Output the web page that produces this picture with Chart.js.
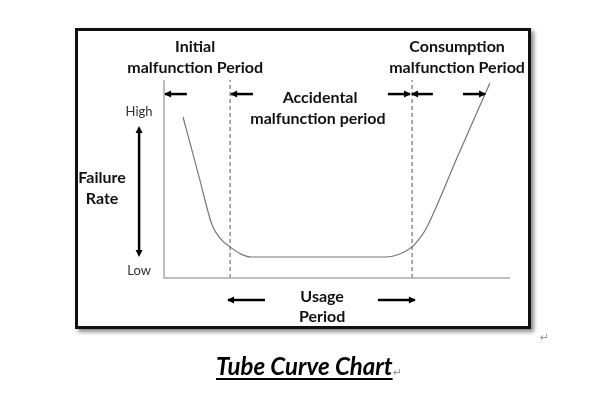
<!DOCTYPE html>
<html>
<head>
<meta charset="utf-8">
<script src="https://cdn.jsdelivr.net/npm/chart.js@4"></script>
<style>
  html, body { margin: 0; padding: 0; background: #fff; }
  body { width: 603px; height: 399px; position: relative; overflow: hidden; font-family: Lato, "Open Sans", sans-serif; }
  .frame { position: absolute; left: 75px; top: 28px; width: 450px; height: 295px; border: 3px solid #111; box-shadow: 3px 3px 4px rgba(0,0,0,0.45); background: #fff; }
  #wrap { position: absolute; left: 0; top: 0; width: 603px; height: 399px; }
  .title { position: absolute; left: 216px; top: 351px; font: italic bold 24px Lato, sans-serif; color: #000; text-decoration: underline; text-decoration-thickness: 2px; text-underline-offset: 3px; }
  .pm { position: absolute; color: #999; font: 11px "DejaVu Sans", sans-serif; }
</style>
</head>
<body>
<div class="frame"></div>
<div id="wrap"><canvas id="myChart"></canvas></div>
<div class="title">Tube Curve Chart</div>
<span class="pm" style="left:393px;top:366px;">↵</span>
<span class="pm" style="left:540px;top:331px;">↵</span>
<script>
// bathtub curve (x = usage time, y = failure rate, both 0..100)
const curveX = [5.5, 10, 13.9, 16.5, 19.1, 22, 25, 40, 55, 64, 68, 71.7, 74.3, 76, 85, 94.2];
const curveY = [81.3, 52, 26.8, 19.5, 15.7, 12.3, 10.6, 10.6, 10.6, 10.6, 12, 15.7, 21, 25.8, 62, 98.5];

// period boundaries
const boundaries = [19.1, 71.7];

// labels, in chart units
const labelText = ["Initial", "malfunction Period", "Consumption", "malfunction Period",
  "Accidental", "malfunction period", "Usage", "Period", "Failure", "Rate"];
const labelX = [9, 9, 84.7, 84.7, 45.1, 44.5, 45.7, 45.7, -17.9, -17.9];
const labelY = [116.7, 106.1, 116.7, 106.1, 90.9, 80.3, -9.6, -19.7, 50.5, 39.9];
const tickText = ["High", "Low"];
const tickY = [83.8, 3.5];
const tickX = -7.2;

// arrows: [x1, x2, y, direction]
const arrowFrom = [0.3, 19.4, 64.7, 71.7, 86.4, 18.5, 61.8];
const arrowTo = [6.6, 25.7, 71.1, 77.7, 92.8, 29.2, 72.5];
const arrowY = [92.9, 92.9, 92.9, 92.9, 92.9, -11.1, -11.1];
const arrowDir = [-1, -1, 1, -1, 1, -1, 1];
const vArrow = { x: -7.2, from: 76.3, to: 11.1 };

function arrowHead(ctx, x, y, ang) {
  ctx.save();
  ctx.translate(x, y);
  ctx.rotate(ang);
  ctx.beginPath();
  ctx.moveTo(0, 0);
  ctx.lineTo(-7, -3.5);
  ctx.lineTo(-7, 3.5);
  ctx.closePath();
  ctx.fill();
  ctx.restore();
}

const annotations = {
  id: "annotations",
  afterDraw(chart) {
    const ctx = chart.ctx;
    const xs = chart.scales.x, ys = chart.scales.y;
    ctx.save();
    ctx.fillStyle = "#111";
    ctx.textAlign = "center";
    ctx.textBaseline = "middle";
    ctx.font = "bold 16px Lato, sans-serif";
    labelText.forEach((t, i) => {
      ctx.fillText(t, xs.getPixelForValue(labelX[i]), ys.getPixelForValue(labelY[i]));
    });
    ctx.fillStyle = "#333";
    ctx.font = "13px Lato, sans-serif";
    tickText.forEach((t, i) => {
      ctx.fillText(t, xs.getPixelForValue(tickX), ys.getPixelForValue(tickY[i]));
    });

    ctx.strokeStyle = "#000";
    ctx.fillStyle = "#000";
    ctx.lineWidth = 2.5;
    arrowFrom.forEach((a, i) => {
      const x1 = xs.getPixelForValue(a), x2 = xs.getPixelForValue(arrowTo[i]);
      const y = ys.getPixelForValue(arrowY[i]);
      ctx.beginPath();
      ctx.moveTo(x1, y);
      ctx.lineTo(x2, y);
      ctx.stroke();
      if (arrowDir[i] < 0) arrowHead(ctx, x1 - 1, y, Math.PI);
      else arrowHead(ctx, x2 + 1, y, 0);
    });
    const vx = xs.getPixelForValue(vArrow.x);
    const vy1 = ys.getPixelForValue(vArrow.from), vy2 = ys.getPixelForValue(vArrow.to);
    ctx.beginPath();
    ctx.moveTo(vx, vy1 + 4);
    ctx.lineTo(vx, vy2 - 4);
    ctx.stroke();
    arrowHead(ctx, vx, vy1 - 1, -Math.PI / 2);
    arrowHead(ctx, vx, vy2 + 1, Math.PI / 2);
    ctx.restore();
  }
};

const ctx = document.getElementById("myChart").getContext("2d");
const datasets = [
  {
    data: curveX.map((x, i) => ({ x: x, y: curveY[i] })),
    borderColor: "#777",
    borderWidth: 1.2,
    pointRadius: 0,
    cubicInterpolationMode: "monotone",
    clip: false
  },
  {
    data: [{ x: 0, y: 100 }, { x: 0, y: 0 }, { x: 100, y: 0 }],
    borderColor: "#aaa",
    borderWidth: 1.5,
    pointRadius: 0,
    clip: false
  }
];
boundaries.forEach(b => {
  datasets.push({
    data: [{ x: b, y: 0 }, { x: b, y: 100 }],
    borderColor: "#555",
    borderWidth: 1,
    borderDash: [4, 3],
    pointRadius: 0,
    clip: false
  });
});

let myChart = new Chart(ctx, {
  type: "scatter",
  data: { datasets: datasets },
  options: {
    responsive: true,
    maintainAspectRatio: false,
    animation: false,
    showLine: true,
    layout: { padding: { left: 164, right: 93, top: 80, bottom: 121 } },
    plugins: { legend: { display: false }, tooltip: { enabled: false } },
    scales: {
      x: { type: "linear", min: 0, max: 100, display: false },
      y: { type: "linear", min: 0, max: 100, display: false }
    }
  },
  plugins: [annotations]
});
</script>
</body>
</html>
